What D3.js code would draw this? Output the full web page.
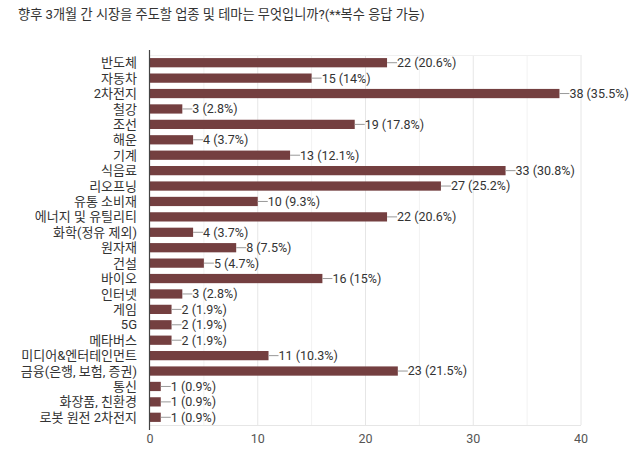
<!DOCTYPE html>
<html><head><meta charset="utf-8">
<script src="https://cdn.jsdelivr.net/npm/d3@7"></script>
<style>body{margin:0;background:#fff;}svg{display:block;font-family:Roboto,"Noto Sans CJK KR",sans-serif;}</style>
</head><body><svg id="c" width="630" height="463"></svg>
<script>
const title = "향후 3개월 간 시장을 주도할 업종 및 테마는 무엇입니까?(**복수 응답 가능)";
const categories = ["반도체","자동차","2차전지","철강","조선","해운","기계","식음료","리오프닝","유통 소비재","에너지 및 유틸리티","화학(정유 제외)","원자재","건설","바이오","인터넷","게임","5G","메타버스","미디어&엔터테인먼트","금융(은행, 보험, 증권)","통신","화장품, 친환경","로봇 원전 2차전지"];
const counts = [22,15,38,3,19,4,13,33,27,10,22,4,8,5,16,3,2,2,2,11,23,1,1,1];
const percents = ["20.6%","14%","35.5%","2.8%","17.8%","3.7%","12.1%","30.8%","25.2%","9.3%","20.6%","3.7%","7.5%","4.7%","15%","2.8%","1.9%","1.9%","1.9%","10.3%","21.5%","0.9%","0.9%","0.9%"];
const xTicks = [0,10,20,30,40];
const gridTicks = [5,10,15,20,25,30,35,40];

const svg = d3.select("#c");
const m = {left:150, right:581, top:55, bottom:425};
const x = d3.scaleLinear().domain([0,40]).range([m.left, m.right]);
const y = d3.scaleBand().domain(categories).range([m.top, m.bottom]).paddingInner(0.4).paddingOuter(0.2);

svg.append("text").attr("x",18).attr("y",19).attr("font-size",13.2).attr("fill","#333").text(title);

svg.append("g").selectAll("line").data(gridTicks).join("line")
  .attr("x1",d=>x(d)).attr("x2",d=>x(d)).attr("y1",m.top).attr("y2",m.bottom)
  .attr("stroke",d=>d%10===0?"#e6e6e6":"#f2f2f2").attr("stroke-width",1);
svg.append("line").attr("x1",m.left).attr("x2",m.right).attr("y1",m.top+0.5).attr("y2",m.top+0.5).attr("stroke","#f0f0f0");
svg.append("line").attr("x1",m.left).attr("x2",m.right).attr("y1",m.bottom+0.5).attr("y2",m.bottom+0.5).attr("stroke","#e6e6e6");

svg.append("g").selectAll("rect").data(counts).join("rect")
  .attr("x",x(0)).attr("y",(d,i)=>y(categories[i]))
  .attr("width",d=>x(d)-x(0)).attr("height",y.bandwidth())
  .attr("fill","#743f40");

svg.append("line").attr("x1",m.left-0.5).attr("x2",m.left-0.5).attr("y1",m.top-5).attr("y2",m.bottom+5).attr("stroke","#444").attr("stroke-width",1.2);

const lab = svg.append("g");
counts.forEach((d,i)=>{
  const cy = y(categories[i]) + y.bandwidth()/2;
  lab.append("line").attr("x1",x(d)).attr("x2",x(d)+10).attr("y1",cy).attr("y2",cy).attr("stroke","#999");
  lab.append("text").attr("x",x(d)+10).attr("y",cy).attr("dy","0.35em").attr("font-size",12.5).attr("fill","#333")
    .text(d+" ("+percents[i]+")");
});

svg.append("g").selectAll("text").data(categories).join("text")
  .attr("x",m.left-13).attr("y",d=>y(d)+y.bandwidth()/2).attr("dy","0.35em")
  .attr("text-anchor","end").attr("font-size",13).attr("fill","#333").text(d=>d);

svg.append("g").selectAll("text").data(xTicks).join("text")
  .attr("x",d=>x(d)).attr("y",443).attr("text-anchor","middle").attr("font-size",12.5).attr("fill","#555").text(d=>d);
</script></body></html>
